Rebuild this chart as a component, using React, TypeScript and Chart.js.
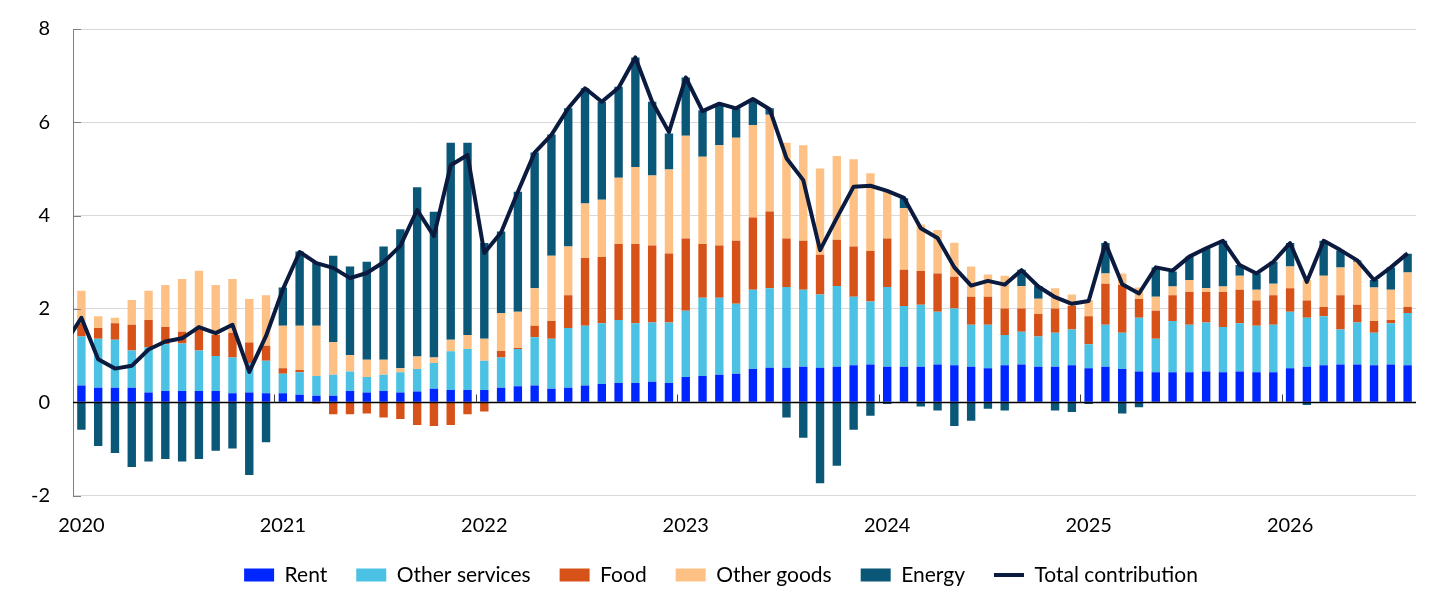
import React, { useEffect, useRef } from 'react';
import { Chart, registerables } from 'chart.js';

Chart.register(...registerables);

// Monthly categories: Dec 2019 (only used so the total line enters from the left edge) to Aug 2026
const categories: string[] = ['2019-12'];
for (let yr = 2020; yr <= 2026; yr++) {
  for (let m = 1; m <= 12; m++) {
    if (yr === 2026 && m > 8) break;
    categories.push(`${yr}-${String(m).padStart(2, '0')}`);
  }
}

// Contributions, Jan 2020 .. Aug 2026 (percentage points)
const rent = [
  0.36, 0.31, 0.31, 0.31, 0.21, 0.24, 0.24, 0.24, 0.24, 0.19, 0.21, 0.19,
  0.19, 0.16, 0.14, 0.14, 0.24, 0.21, 0.24, 0.21, 0.23, 0.29, 0.26, 0.26,
  0.26, 0.31, 0.34, 0.36, 0.29, 0.31, 0.36, 0.39, 0.41, 0.41, 0.44, 0.41,
  0.54, 0.56, 0.59, 0.61, 0.71, 0.74, 0.74, 0.76, 0.74, 0.76, 0.79, 0.81,
  0.76, 0.76, 0.76, 0.81, 0.79, 0.76, 0.73, 0.79, 0.81, 0.76, 0.76, 0.79,
  0.73, 0.76, 0.71, 0.66, 0.64, 0.64, 0.64, 0.66, 0.64, 0.66, 0.64, 0.64,
  0.73, 0.76, 0.79, 0.81, 0.81, 0.79, 0.81, 0.79,
];

const otherServices = [
  1.05, 1.05, 1.03, 0.80, 0.97, 1.00, 1.02, 0.87, 0.75, 0.77, 0.63, 0.70,
  0.42, 0.48, 0.42, 0.45, 0.42, 0.33, 0.35, 0.43, 0.48, 0.55, 0.83, 0.88,
  0.63, 0.65, 0.80, 1.03, 1.07, 1.28, 1.28, 1.30, 1.35, 1.28, 1.27, 1.30,
  1.42, 1.68, 1.65, 1.50, 1.70, 1.70, 1.73, 1.65, 1.57, 1.73, 1.47, 1.35,
  1.71, 1.30, 1.33, 1.13, 1.22, 0.90, 0.93, 0.65, 0.70, 0.65, 0.73, 0.77,
  0.51, 0.90, 0.78, 1.15, 0.72, 1.10, 1.02, 1.05, 0.97, 1.03, 1.00, 1.02,
  1.21, 1.05, 1.05, 0.75, 0.90, 0.70, 0.88, 1.12,
];

const food = [
  0.28, 0.23, 0.35, 0.55, 0.58, 0.37, 0.25, 0.50, 0.45, 0.53, 0.44, 0.32,
  0.12, 0.05, -0.03, -0.26, -0.26, -0.24, -0.33, -0.36, -0.49, -0.51, -0.49, -0.26,
  -0.20, 0.14, 0.02, 0.25, 0.38, 0.70, 1.45, 1.42, 1.63, 1.70, 1.65, 1.48,
  1.55, 1.15, 1.12, 1.35, 1.55, 1.65, 1.04, 1.05, 0.85, 0.99, 1.08, 1.08,
  1.04, 0.78, 0.72, 0.82, 0.68, 0.60, 0.60, 0.57, 0.50, 0.48, 0.52, 0.50,
  0.60, 0.88, 1.02, 0.40, 0.60, 0.55, 0.70, 0.65, 0.75, 0.72, 0.54, 0.63,
  0.50, 0.37, 0.20, 0.73, 0.38, 0.25, 0.07, 0.13,
];

const otherGoods = [
  0.70, 0.25, 0.12, 0.53, 0.63, 0.90, 1.13, 1.21, 1.07, 1.15, 0.93, 1.08,
  0.91, 0.95, 1.08, 0.70, 0.35, 0.37, 0.32, 0.09, 0.27, 0.12, 0.25, 0.30,
  0.47, 0.81, 0.78, 0.80, 1.40, 1.05, 1.17, 1.23, 1.42, 1.65, 1.50, 1.80,
  2.20, 1.87, 2.15, 2.21, 1.98, 2.07, 2.05, 2.05, 1.85, 1.80, 1.87, 1.67,
  1.00, 1.32, 1.00, 0.93, 0.73, 0.65, 0.48, 0.70, 0.48, 0.33, 0.43, 0.25,
  0.35, 0.22, 0.25, 0.25, 0.30, 0.19, 0.26, 0.08, 0.12, 0.30, 0.23, 0.25,
  0.47, 0.44, 0.67, 0.60, 0.92, 0.72, 0.65, 0.74,
];

const energy = [
  -0.59, -0.94, -1.09, -1.39, -1.27, -1.22, -1.27, -1.22, -1.04, -0.99, -1.56, -0.86,
  0.82, 1.59, 1.35, 1.85, 1.90, 2.10, 2.43, 2.98, 3.63, 3.12, 4.22, 4.12,
  2.05, 1.75, 2.57, 2.91, 2.60, 2.96, 2.47, 2.10, 1.95, 2.35, 1.58, 0.77,
  1.25, 1.00, 0.86, 0.63, 0.56, 0.14, -0.33, -0.76, -1.74, -1.36, -0.59, -0.29,
  -0.04, 0.21, -0.09, -0.18, -0.51, -0.40, -0.14, -0.18, 0.35, 0.27, -0.18, -0.21,
  -0.04, 0.65, -0.24, -0.11, 0.63, 0.32, 0.50, 0.86, 0.98, 0.23, 0.35, 0.47,
  0.50, -0.06, 0.75, 0.36, 0.03, 0.16, 0.48, 0.40,
];

// Total contribution, Dec 2019 .. Aug 2026
const total = [
  1.24,
  1.81, 0.92, 0.72, 0.78, 1.13, 1.30, 1.37, 1.61, 1.48, 1.66, 0.65, 1.42,
  2.42, 3.22, 2.98, 2.88, 2.66, 2.77, 3.00, 3.35, 4.12, 3.56, 5.08, 5.30,
  3.20, 3.64, 4.51, 5.35, 5.73, 6.30, 6.73, 6.44, 6.74, 7.39, 6.44, 5.79,
  6.96, 6.24, 6.40, 6.30, 6.50, 6.28, 5.23, 4.76, 3.26, 3.95, 4.62, 4.64,
  4.53, 4.38, 3.73, 3.52, 2.89, 2.50, 2.60, 2.52, 2.83, 2.48, 2.25, 2.11,
  2.17, 3.41, 2.53, 2.33, 2.89, 2.82, 3.12, 3.30, 3.46, 2.94, 2.76, 3.01,
  3.41, 2.58, 3.46, 3.26, 3.04, 2.62, 2.89, 3.19,
];

const yTicks = [-2, 0, 2, 4, 6, 8];

const FONT = 'Lato, "Open Sans", sans-serif';

const axisDecor = {
  id: 'axisDecor',
  afterLayout(chart: any) {
    if (chart.legend) {
      chart.legend.left += 13;
      chart.legend.right += 13;
    }
  },
  beforeDatasetDraw(chart: any, args: any) {
    if (args.index !== 5) return;
    const { ctx, chartArea, scales } = chart;
    const x = scales.x;
    const y = scales.y;
    const y0 = Math.round(y.getPixelForValue(0)) + 0.5;
    ctx.save();
    ctx.lineWidth = 1;
    ctx.strokeStyle = '#7f7f7f';
    ctx.beginPath();
    yTicks.forEach((v) => {
      const py = Math.round(y.getPixelForValue(v)) + 0.5;
      ctx.moveTo(chartArea.left, py);
      ctx.lineTo(chartArea.left + 8, py);
    });
    ctx.stroke();
    ctx.strokeStyle = '#000000';
    ctx.lineWidth = 1.3;
    ctx.beginPath();
    ctx.moveTo(chartArea.left, y0);
    ctx.lineTo(chartArea.right, y0);
    ctx.stroke();
    const half = (x.getPixelForValue(2) - x.getPixelForValue(1)) / 2;
    ctx.lineWidth = 1;
    ctx.strokeStyle = '#404040';
    ctx.beginPath();
    categories.forEach((c, i) => {
      if (i > 1 && c.endsWith('-01')) {
        const px = Math.round(x.getPixelForValue(i) - half) + 0.5;
        ctx.moveTo(px, y0);
        ctx.lineTo(px, y0 - 8);
      }
    });
    ctx.stroke();
    ctx.restore();
  },
};

export default function App() {
  const ref = useRef<HTMLCanvasElement>(null);

  useEffect(() => {
    document.body.style.margin = '0';
    const withGap = (arr: number[]) => [null, ...arr];
    const barDs = (label: string, data: number[], color: string) => ({
      type: 'bar' as const,
      label,
      data: withGap(data),
      backgroundColor: color,
      borderColor: color,
      borderWidth: 0,
      stack: 'components',
      categoryPercentage: 1,
      barPercentage: 0.5,
    });

    const chart = new Chart(ref.current as HTMLCanvasElement, {
      type: 'bar',
      data: {
        labels: categories,
        datasets: [
          barDs('Rent', rent, '#0026ff'),
          barDs('Other services', otherServices, '#4bc1e3'),
          barDs('Food', food, '#d65219'),
          barDs('Other goods', otherGoods, '#fdc186'),
          barDs('Energy', energy, '#0b5777'),
          {
            type: 'line' as const,
            label: 'Total contribution',
            data: total,
            borderColor: '#0b1b3f',
            backgroundColor: '#0b1b3f',
            borderWidth: 4,
            borderJoinStyle: 'round',
            borderCapStyle: 'butt',
            pointRadius: 0,
            tension: 0,
            stack: 'total',
            order: -1,
            clip: 0,
          } as any,
        ],
      },
      options: {
        responsive: false,
        maintainAspectRatio: false,
        animation: false,
        events: [],
        layout: { padding: { top: 29, right: 29, bottom: 8.5, left: 0 } },
        plugins: {
          tooltip: { enabled: false },
          legend: {
            position: 'bottom',
            labels: {
              usePointStyle: true,
              pointStyleWidth: 30,
              boxWidth: 30,
              boxHeight: 13,
              padding: 29,
              color: '#000000',
              font: { family: FONT, size: 21 },
              generateLabels: (ch: any) =>
                ch.data.datasets.map((ds: any, i: number) => ({
                  text: ds.label,
                  fillStyle: ds.type === 'line' ? 'rgba(0,0,0,0)' : ds.backgroundColor,
                  strokeStyle: ds.borderColor,
                  lineWidth: ds.type === 'line' ? 4 : 0,
                  pointStyle: ds.type === 'line' ? 'line' : 'rect',
                  datasetIndex: i,
                  hidden: false,
                  fontColor: '#000000',
                })),
            },
          },
        },
        scales: {
          x: {
            type: 'category',
            min: '2020-01',
            offset: true,
            stacked: true,
            grid: { display: false, drawTicks: false },
            border: { display: false },
            afterFit: (s: any) => {
              s.height = 40;
            },
            ticks: {
              autoSkip: false,
              maxRotation: 0,
              minRotation: 0,
              padding: 18,
              color: '#000000',
              font: { family: FONT, size: 20 },
              callback: function (this: any, value: any) {
                const lbl = String(this.getLabelForValue(value));
                return lbl.endsWith('-01') ? lbl.slice(0, 4) : '';
              },
            },
          },
          y: {
            min: -2,
            max: 8,
            stacked: true,
            afterFit: (s: any) => {
              s.width = 73;
              s.paddingTop = 0;
              s.paddingBottom = 0;
            },
            border: { display: true, color: '#7f7f7f', width: 1 },
            grid: {
              drawTicks: false,
              lineWidth: 1,
              color: (c: any) => (c.tick && c.tick.value === 0 ? 'rgba(0,0,0,0)' : '#d9d9d9'),
            },
            afterBuildTicks: (s: any) => {
              s.ticks = yTicks.map((v) => ({ value: v }));
            },
            ticks: {
              padding: 23,
              color: '#000000',
              font: { family: FONT, size: 20 },
              callback: (v: any) => String(v),
            },
          },
        },
      },
      plugins: [axisDecor],
    });
    return () => chart.destroy();
  }, []);

  return (
    <div style={{ width: 1445, height: 604 }}>
      <canvas ref={ref} width={1445} height={604} style={{ display: 'block' }} />
    </div>
  );
}
